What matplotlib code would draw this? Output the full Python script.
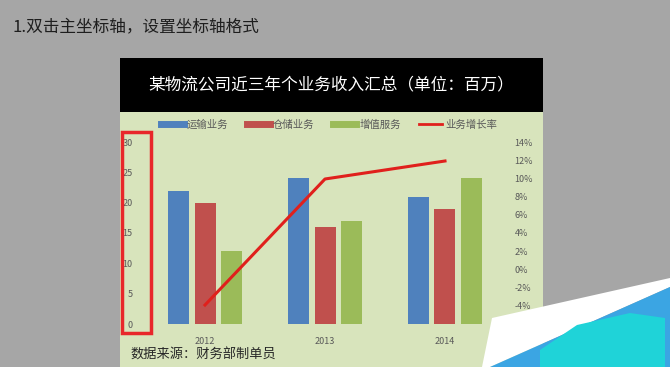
import matplotlib
matplotlib.use("Agg")
import matplotlib.pyplot as plt
from matplotlib.patches import Rectangle, Polygon
from matplotlib.lines import Line2D
from matplotlib.ticker import FuncFormatter
import numpy as np

plt.rcParams['font.family'] = ['Noto Sans CJK SC', 'DejaVu Sans']

years = ['2012', '2013', '2014']
transport = [22, 24, 21]
storage = [20, 16, 19]
value_added = [12, 17, 24]
growth = [-0.04, 0.10, 0.12]
series_names = ['运输业务', '仓储业务', '增值服务', '业务增长率']

W, H = 670, 367
fig = plt.figure(figsize=(W / 100, H / 100), dpi=100, facecolor='#a6a6a6')


def px(x, y):
    return (x / W, 1 - y / H)


def rect(x0, y0, x1, y1, **kw):
    fig.patches.append(Rectangle(px(x0, y1), (x1 - x0) / W, (y1 - y0) / H,
                                 transform=fig.transFigure, **kw))


# heading of the tutorial page
fig.text(*px(12, 27), '1.双击主坐标轴，设置坐标轴格式', fontsize=12, color='#1e1e1e',
         va='center', ha='left')

# chart panel: black title bar + light green body (behind the axes)
rect(120, 58, 543, 112, facecolor='black', edgecolor='none', zorder=-2)
rect(120, 112, 543, 367, facecolor='#d8e4bc', edgecolor='none', zorder=-2)
fig.text(*px(331, 85), '某物流公司近三年个业务收入汇总（单位：百万）', fontsize=12,
         color='white', ha='center', va='center')

ax = fig.add_axes([145 / W, 1 - 324 / H, 360 / W, 182 / H])
ax.set_facecolor('none')
x = np.arange(len(years))
w = 0.175
ax.bar(x - 0.217, transport, w, color='#4f81bd')
ax.bar(x, storage, w, color='#c0504d')
ax.bar(x + 0.217, value_added, w, color='#9bbb59')
ax.set_xlim(-0.5, 2.5)
ax.set_ylim(0, 30)
ax.set_yticks(range(0, 31, 5))
ax.set_xticks(x)
ax.set_xticklabels(years)
for s in ax.spines.values():
    s.set_visible(False)
ax.tick_params(length=0, labelsize=6.5, labelcolor='#595959')
ax.tick_params(axis='y', pad=9)
ax.tick_params(axis='x', pad=9)

# secondary axis: -4% sits a bit above the bar baseline in the screenshot
ax2 = ax.twinx()
ax2.plot(x, growth, color='#e0201c', lw=2.2)
ax2.set_ylim(-0.0611, 0.1411)
ax2.set_yticks(np.arange(-0.04, 0.141, 0.02))
ax2.yaxis.set_major_formatter(FuncFormatter(lambda v, p: f'{v * 100:.0f}%'))
for s in ax2.spines.values():
    s.set_visible(False)
ax2.tick_params(length=0, labelsize=6.5, labelcolor='#595959', pad=7)

handles = [Line2D([], [], color='#4f81bd', lw=5),
           Line2D([], [], color='#c0504d', lw=5),
           Line2D([], [], color='#9bbb59', lw=5),
           Line2D([], [], color='#e0201c', lw=2)]
fig.legend(handles, series_names, loc='center', bbox_to_anchor=px(329, 125), ncol=4,
           frameon=False, fontsize=7.5, handlelength=2.2, columnspacing=1.8,
           handletextpad=0.3, labelcolor='#595959')

# red highlight box around the primary axis
rect(122, 132, 151, 333, facecolor='none', edgecolor='#e8272a', lw=2.5, zorder=5)

fig.text(*px(130, 355), '数据来源：财务部制单员', fontsize=9.5, color='#262626',
         ha='left', va='center')

# page-curl artefact in the bottom right corner
fig.patches.append(Polygon([px(492, 318), px(670, 278), px(670, 287), px(490, 367), px(482, 367)],
                           closed=True, transform=fig.transFigure, facecolor='white',
                           edgecolor='none', zorder=6))
fig.patches.append(Polygon([px(490, 367), px(670, 287), px(670, 367)],
                           closed=True, transform=fig.transFigure, facecolor='#3ba5e3',
                           edgecolor='none', zorder=6))
fig.patches.append(Polygon([px(540, 367), px(540, 350), px(577, 325), px(630, 313), px(665, 318), px(665, 367)],
                           closed=True, transform=fig.transFigure, facecolor='#1fd3d8',
                           edgecolor='none', zorder=6))

fig.savefig('out.png', dpi=100, facecolor=fig.get_facecolor())
